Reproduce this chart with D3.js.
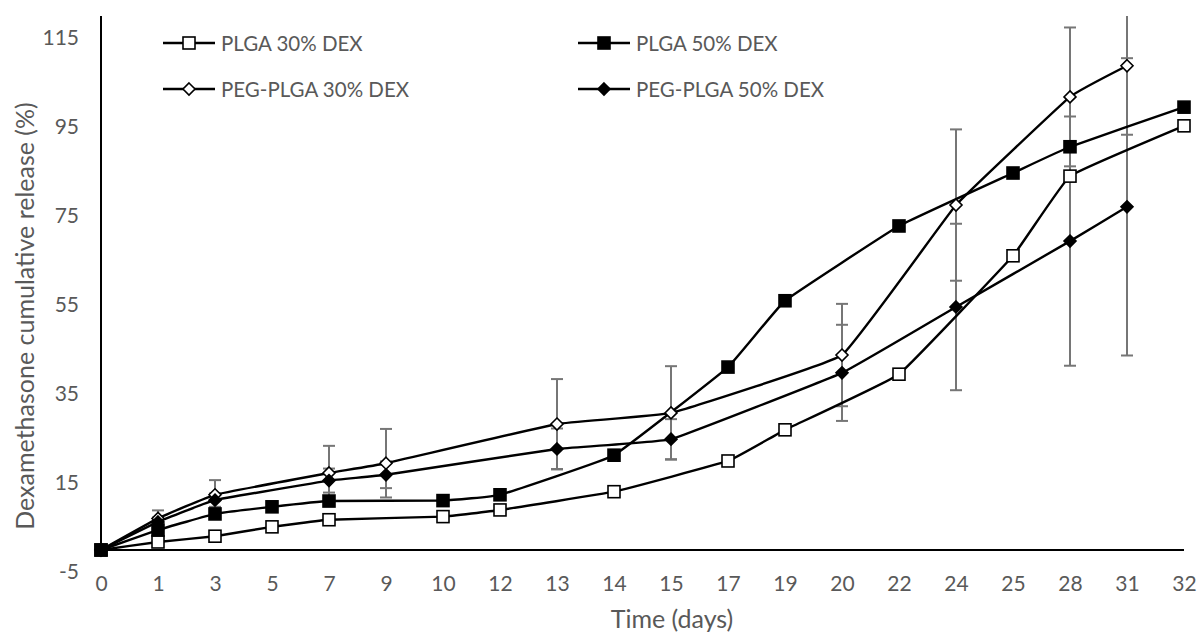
<!DOCTYPE html>
<html><head><meta charset="utf-8">
<script src="https://cdn.jsdelivr.net/npm/d3@7"></script>
<style>body{margin:0;background:#fff}svg{display:block}</style>
</head><body><svg id="c" width="1200" height="635"></svg>
<script>
const categories = ["0","1","3","5","7","9","10","12","13","14","15","17","19","20","22","24","25","28","31","32"];
const yTicks = [-5,15,35,55,75,95,115];
const plga30 = [0,1.8,3.1,5.2,6.8,null,7.5,9.0,null,13.1,null,20.0,27.0,null,39.5,null,66.1,84.0,null,95.3];
const plga50 = [0,4.5,8.1,9.7,11.0,null,11.1,12.4,null,21.3,null,41.1,56.0,null,72.8,null,84.7,90.6,null,99.5];
const peg30  = [0,7.1,12.4,null,17.3,19.5,null,null,28.3,null,30.8,null,null,43.8,null,77.5,null,101.8,108.8,null];
const peg50  = [0,6.3,11.2,null,15.6,16.9,null,null,22.7,null,24.9,null,null,39.8,null,54.6,null,69.4,77.1,null];
const peg30Err = [0,1.8,3.3,null,6.1,7.7,null,null,10.1,null,10.5,null,null,11.5,null,17,null,15.6,15.5,null];
const peg50Err = [0,1.0,1.5,null,2.7,3.0,null,null,4.6,null,4.5,null,null,10.8,null,18.7,null,28,33.4,null];
const seriesNames = ["PLGA 30% DEX","PLGA 50% DEX","PEG-PLGA 30% DEX","PEG-PLGA 50% DEX"];

const series = [
  {name:seriesNames[0], vals:plga30, err:null, shape:"square", fill:"#fff"},
  {name:seriesNames[1], vals:plga50, err:null, shape:"square", fill:"#000"},
  {name:seriesNames[2], vals:peg30, err:peg30Err, shape:"diamond", fill:"#fff"},
  {name:seriesNames[3], vals:peg50, err:peg50Err, shape:"diamond", fill:"#000"}
];

const svg = d3.select("#c");
const font = "Lato, 'Open Sans', sans-serif";
const txt = "#595959";
const x = d3.scalePoint().domain(categories).range([101,1184]);
const y = d3.scaleLinear().domain([-5,120]).range([572.25,15.9]);

svg.append("defs").append("clipPath").attr("id","clip")
  .append("rect").attr("x",0).attr("y",y(120)).attr("width",1200).attr("height",600);

// axes
const yAxis = d3.axisLeft(y).tickValues(yTicks).tickFormat(d=>String(d)).tickSize(0).tickPadding(22);
const gy = svg.append("g").attr("transform","translate(101,0)").call(yAxis);
gy.select(".domain").remove();
gy.selectAll("text").attr("font-family",font).attr("font-size",21).attr("fill",txt);
svg.append("line").attr("x1",101).attr("x2",101).attr("y1",y(120)).attr("y2",y(0))
  .attr("stroke","#000").attr("stroke-width",2);

const xAxis = d3.axisBottom(x).tickSize(0).tickPadding(0);
const gx = svg.append("g").attr("transform","translate(0,"+y(-5)+")").call(xAxis);
gx.select(".domain").remove();
gx.selectAll("text").attr("font-family",font).attr("font-size",21).attr("fill",txt).attr("y",4).attr("dy","0.71em");
svg.append("line").attr("x1",101).attr("x2",1184).attr("y1",y(0)).attr("y2",y(0))
  .attr("stroke","#000").attr("stroke-width",2);

svg.append("text").attr("x",672).attr("y",628).attr("text-anchor","middle")
  .attr("font-family",font).attr("font-size",25).attr("fill",txt).text("Time (days)");
svg.append("text").attr("transform","translate(24,316) rotate(-90)").attr("text-anchor","middle")
  .attr("dominant-baseline","central")
  .attr("font-family",font).attr("font-size",25).attr("fill",txt).text("Dexamethasone cumulative release (%)");

const plot = svg.append("g").attr("clip-path","url(#clip)");

// error bars
series.forEach(s=>{
  if(!s.err) return;
  categories.forEach((c,i)=>{
    const v=s.vals[i], e=s.err[i];
    if(v==null||e==null||e===0) return;
    const cx=x(c);
    const g=plot.append("g").attr("stroke","#767676").attr("stroke-width",2);
    g.append("line").attr("x1",cx).attr("x2",cx).attr("y1",y(v+e)).attr("y2",y(v-e));
    g.append("line").attr("x1",cx-6).attr("x2",cx+6).attr("y1",y(v+e)).attr("y2",y(v+e));
    g.append("line").attr("x1",cx-6).attr("x2",cx+6).attr("y1",y(v-e)).attr("y2",y(v-e));
  });
});

const line = d3.line().x(d=>x(d.c)).y(d=>y(d.v)).curve(d3.curveCardinal.tension(0.75));
series.forEach(s=>{
  s.pts = categories.map((c,i)=>({c, v:s.vals[i]})).filter(d=>d.v!=null);
  plot.append("path").datum(s.pts).attr("d",line).attr("fill","none")
    .attr("stroke","#000").attr("stroke-width",2.4);
});

function marker(g, shape, fill, cx, cy){
  if(shape==="square"){
    g.append("rect").attr("x",cx-6).attr("y",cy-6).attr("width",12).attr("height",12)
      .attr("fill",fill).attr("stroke","#000").attr("stroke-width",1.6);
  } else {
    const r=6;
    g.append("path").attr("d",`M${cx},${cy-r}L${cx+r},${cy}L${cx},${cy+r}L${cx-r},${cy}Z`)
      .attr("fill",fill).attr("stroke","#000").attr("stroke-width",1.6);
  }
}
series.forEach(s=>{
  s.pts.forEach(d=>marker(plot, s.shape, s.fill, x(d.c), y(d.v)));
});

// legend
const legPos = [[163,43],[578,43],[163,89],[578,89]];
series.forEach((s,i)=>{
  const [lx,ly]=legPos[i];
  svg.append("line").attr("x1",lx).attr("x2",lx+52).attr("y1",ly).attr("y2",ly)
    .attr("stroke","#000").attr("stroke-width",2.4);
  marker(svg, s.shape, s.fill, lx+26, ly);
  svg.append("text").attr("x",lx+58).attr("y",ly).attr("dominant-baseline","central")
    .attr("font-family",font).attr("font-size",20.5).attr("fill",txt).text(s.name);
});
</script></body></html>
